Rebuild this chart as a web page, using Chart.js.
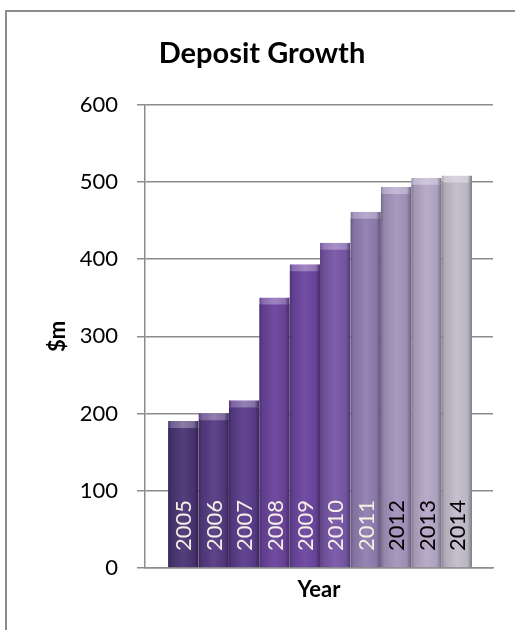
<!DOCTYPE html>
<html>
<head>
<meta charset="utf-8">
<script src="https://cdn.jsdelivr.net/npm/chart.js@4"></script>
<style>
  html, body { margin: 0; padding: 0; background: #ffffff; }
  #wrap { position: relative; width: 515px; height: 630px; overflow: hidden; }
  #frame {
    position: absolute; left: 5px; top: 10px; width: 600px; height: 700px;
    border-left: 2px solid #8c8c8c; border-top: 2px solid #8c8c8c;
  }
  #chart { position: absolute; left: 0; top: 0; }
</style>
</head>
<body>
<div id="wrap">
  <div id="frame"></div>
  <canvas id="chart" width="515" height="630"></canvas>
</div>
<script>
// Deposits by year, $m
const years = [2005, 2006, 2007, 2008, 2009, 2010, 2011, 2012, 2013, 2014];
const deposits = [190, 200, 217, 350, 393, 421, 461, 493, 505, 508];
const yTicks = [0, 100, 200, 300, 400, 500, 600];

// bar colours go from dark purple to pale grey
const barColors = ["#4b3575", "#553a82", "#5b3c8b", "#6a439b", "#6c46a0",
  "#7857a8", "#8f7db0", "#a394bd", "#b4a8c7", "#c3bdcc"];
const yearTextColors = ["#f4f0e6", "#f4f0e6", "#f4f0e6", "#f4f0e6", "#f4f0e6",
  "#f4f0e6", "#f4f0e6", "#000000", "#000000", "#000000"];

const FONT = "Lato, 'Open Sans', sans-serif";

function shade(hex, f) {
  const n = parseInt(hex.slice(1), 16);
  const ch = [(n >> 16) & 255, (n >> 8) & 255, n & 255].map((v) => {
    let out = f >= 1 ? v + (255 - v) * (f - 1) : v * f;
    return Math.max(0, Math.min(255, Math.round(out)));
  });
  return "rgb(" + ch.join(",") + ")";
}

// horizontal gradient across each bar so it looks like a rounded column
function barGradient(context, light) {
  const chart = context.chart;
  const base = barColors[context.dataIndex];
  const xScale = chart.scales.x;
  if (!chart.chartArea || !xScale) return base;
  const x0 = xScale.getPixelForValue(years[context.dataIndex] - 0.5);
  const x1 = xScale.getPixelForValue(years[context.dataIndex] + 0.5);
  const g = chart.ctx.createLinearGradient(x0, 0, x1, 0);
  const k = light ? 0.3 : 0;
  g.addColorStop(0, shade(base, 0.7 + k * 0.5));
  g.addColorStop(0.1, shade(base, 0.9 + k));
  g.addColorStop(0.5, shade(base, 1.05 + k));
  g.addColorStop(0.85, shade(base, 0.95 + k));
  g.addColorStop(1, shade(base, 0.65));
  return g;
}

// year written upright inside each bar
const yearLabels = {
  id: "yearLabels",
  afterDatasetsDraw(chart) {
    const ctx = chart.ctx;
    const meta = chart.getDatasetMeta(0);
    ctx.save();
    ctx.font = "22px " + FONT;
    ctx.textAlign = "left";
    ctx.textBaseline = "middle";
    meta.data.forEach((bar, i) => {
      ctx.save();
      ctx.translate(bar.x + 1, chart.chartArea.bottom - 17);
      ctx.rotate(-Math.PI / 2);
      ctx.fillStyle = yearTextColors[i];
      ctx.fillText(String(years[i]), 0, 0);
      ctx.restore();
    });
    ctx.restore();
  },
};

new Chart(document.getElementById("chart"), {
  type: "bar",
  plugins: [yearLabels],
  data: {
    datasets: [
      {
        data: years.map((y, i) => ({ x: y, y: deposits[i] })),
        backgroundColor: (c) => barGradient(c, false),
        borderColor: (c) => barGradient(c, true),
        borderWidth: { top: 7, left: 0, right: 0, bottom: 0 },
        borderSkipped: "bottom",
        categoryPercentage: 1,
        barPercentage: 1,
      },
    ],
  },
  options: {
    responsive: false,
    animation: false,
    layout: { padding: { left: 31, right: 22, top: 0, bottom: 0 } },
    plugins: {
      legend: { display: false },
      tooltip: { enabled: false },
      title: {
        display: true,
        text: "Deposit Growth",
        color: "#000000",
        font: { family: FONT, size: 29, weight: "bold", lineHeight: 1.2 },
        padding: { top: 36, bottom: 34 },
      },
    },
    scales: {
      x: {
        type: "linear",
        min: 2003.74,
        max: 2015.19,
        offset: false,
        grid: { display: false },
        border: { display: true, color: "#8c8c8c", width: 1.5 },
        ticks: { display: false },
        title: {
          display: true,
          text: "Year",
          color: "#000000",
          font: { family: FONT, size: 22, weight: "bold", lineHeight: 1.2 },
          padding: { top: 0, bottom: 27 },
        },
        afterFit(scale) {
          scale.height = 62;
        },
      },
      y: {
        min: 0,
        max: 600,
        afterBuildTicks(scale) {
          scale.ticks = yTicks.map((v) => ({ value: v }));
        },
        grid: { color: "#8c8c8c", lineWidth: 1.5, tickLength: 8, drawTicks: true },
        border: { display: true, color: "#8c8c8c", width: 1.5 },
        ticks: {
          color: "#000000",
          padding: 19,
          font: { family: FONT, size: 22 },
        },
        title: {
          display: true,
          text: "$m",
          color: "#000000",
          font: { family: FONT, size: 22, weight: "bold", lineHeight: 1.2 },
          padding: { top: 14, bottom: 0 },
        },
        afterFit(scale) {
          scale.width = 114;
        },
      },
    },
  },
});
</script>
</body>
</html>
